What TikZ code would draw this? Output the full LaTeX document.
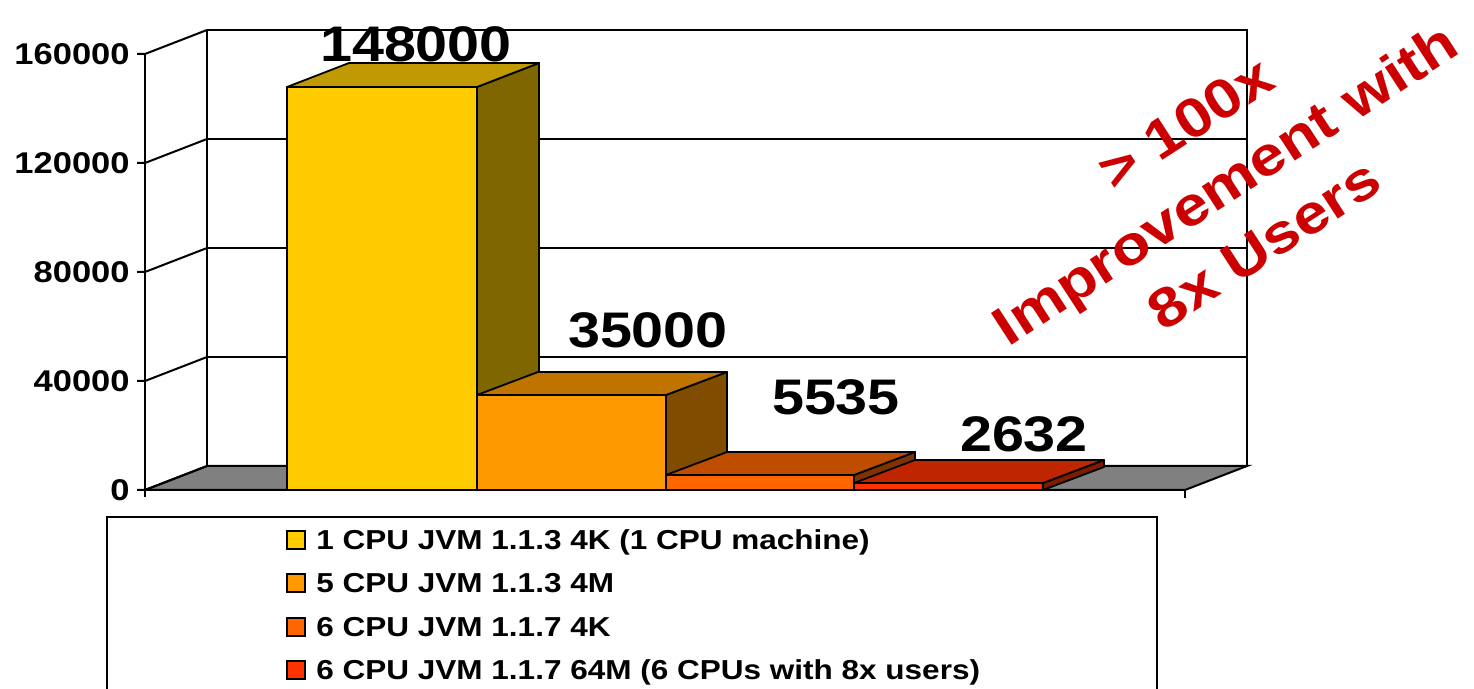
\documentclass[tikz,border=0pt]{standalone}
\usepackage{fontspec}
\setmainfont[FakeStretch=1.15]{Liberation Sans}
\usepackage{tikz}
\usetikzlibrary{positioning}

\definecolor{barA}{HTML}{FFCC00}
\definecolor{barAtop}{HTML}{C09A00}
\definecolor{barAside}{HTML}{806600}
\definecolor{barB}{HTML}{FF9900}
\definecolor{barBtop}{HTML}{C07400}
\definecolor{barBside}{HTML}{804D00}
\definecolor{barC}{HTML}{FF6600}
\definecolor{barCtop}{HTML}{BF4D00}
\definecolor{barCside}{HTML}{803300}
\definecolor{barD}{HTML}{FF3300}
\definecolor{barDtop}{HTML}{BF2600}
\definecolor{barDside}{HTML}{801A00}
\definecolor{floorgray}{HTML}{808080}
\definecolor{notered}{HTML}{CC0000}

\begin{document}
\begin{tikzpicture}[x=0.5pt,y=-0.5pt,
    grid/.style={line width=0.75pt},
    axis/.style={line width=1pt},
    face/.style={draw=black,line width=0.9pt,line join=round},
    ylab/.style={anchor=east,inner sep=0pt,font=\fontsize{15}{17}\bfseries\selectfont},
    vallab/.style={anchor=base,inner sep=0pt,font=\fontsize{25}{30}\bfseries\selectfont},
    legtext/.style={anchor=base west,inner sep=0pt,font=\fontsize{13.7}{17}\bfseries\selectfont},
    swatch/.style={draw=black,line width=0.6pt,minimum size=9pt,inner sep=0pt}]
    \useasboundingbox (0,0) rectangle (1474,689);

    % back wall
    \draw[grid] (207,139) -- (1247,139);
    \draw[grid] (207,248) -- (1247,248);
    \draw[grid] (207,357) -- (1247,357);
    \draw[axis] (207,30) -- (1247,30) -- (1247,466);
    \draw[axis] (207,30) -- (207,466);

    % floor
    \filldraw[fill=floorgray,axis] (145,490) -- (207,466) -- (1247,466) -- (1185,490) -- cycle;
    \draw[line width=1.4pt] (207,466) -- (1247,466);
    \draw[line width=1.2pt] (145,490) -- (1185,490);
    \draw[axis] (1185,490) -- (1185,498);

    % y axis
    \draw[axis] (145,54) -- (145,497);
    \draw[axis] (137,54) -- (145,54) -- (207,30);
    \draw[axis] (137,163) -- (145,163) -- (207,139);
    \draw[axis] (137,272) -- (145,272) -- (207,248);
    \draw[axis] (137,381) -- (145,381) -- (207,357);
    \draw[axis] (137,490) -- (145,490) -- (207,466);

    \node[ylab] (y160) at (130,54) {160000};
    \node[ylab] (y120) at (130,163) {120000};
    \node[ylab] (y80) at (130,272) {80000};
    \node[ylab] (y40) at (130,381) {40000};
    \node[ylab] (y0) at (130,490) {0};

    % bars
    \filldraw[face,fill=barAside] (477,490) -- (477,87) -- (539,63) -- (539,466) -- cycle;
    \filldraw[face,fill=barAtop] (287,87) -- (349,63) -- (539,63) -- (477,87) -- cycle;
    \filldraw[face,fill=barA] (287,490) rectangle (477,87);

    \filldraw[face,fill=barBside] (666,490) -- (666,395) -- (727,372) -- (727,467) -- cycle;
    \filldraw[face,fill=barBtop] (477,395) -- (538,372) -- (727,372) -- (666,395) -- cycle;
    \filldraw[face,fill=barB] (477,490) rectangle (666,395);

    \filldraw[face,fill=barCside] (854,490) -- (854,475) -- (915,452) -- (915,467) -- cycle;
    \filldraw[face,fill=barCtop] (666,475) -- (727,452) -- (915,452) -- (854,475) -- cycle;
    \filldraw[face,fill=barC] (666,490) rectangle (854,475);

    \filldraw[face,fill=barDside] (1043,490) -- (1043,483) -- (1104,460) -- (1104,467) -- cycle;
    \filldraw[face,fill=barDtop] (854,483) -- (915,460) -- (1104,460) -- (1043,483) -- cycle;
    \filldraw[face,fill=barD] (854,490) rectangle (1043,483);

    \node[vallab] (v1) at (416,62) {148000};
    \node[vallab] (v2) at (648,348) {35000};
    \node[vallab] (v3) at (836,415) {5535};
    \node[vallab] (v4) at (1024,452) {2632};

    % legend
    \draw[line width=0.8pt] (107,689) -- (107,517) -- (1157,517) -- (1157,689);
    \node[swatch,fill=barA] (s1) at (296,540) {};
    \node[swatch,fill=barB] (s2) at (296,583) {};
    \node[swatch,fill=barC] (s3) at (296,627) {};
    \node[swatch,fill=barD] (s4) at (296,670) {};
    \node[legtext] (l1) at (316,550) {1 CPU JVM 1.1.3 4K (1 CPU machine)};
    \node[legtext] (l2) at (316,593) {5 CPU JVM 1.1.3 4M};
    \node[legtext] (l3) at (316,637) {6 CPU JVM 1.1.7 4K};
    \node[legtext] (l4) at (316,680) {6 CPU JVM 1.1.7 64M (6 CPUs with 8x users)};

    % note
    \node[rotate=33,align=center,text=notered,inner sep=0pt,
        font=\fontsize{27.5}{36}\bfseries\selectfont] (note) at (1225,184)
        {> 100x\\Improvement with\\8x Users};
\end{tikzpicture}
\end{document}
